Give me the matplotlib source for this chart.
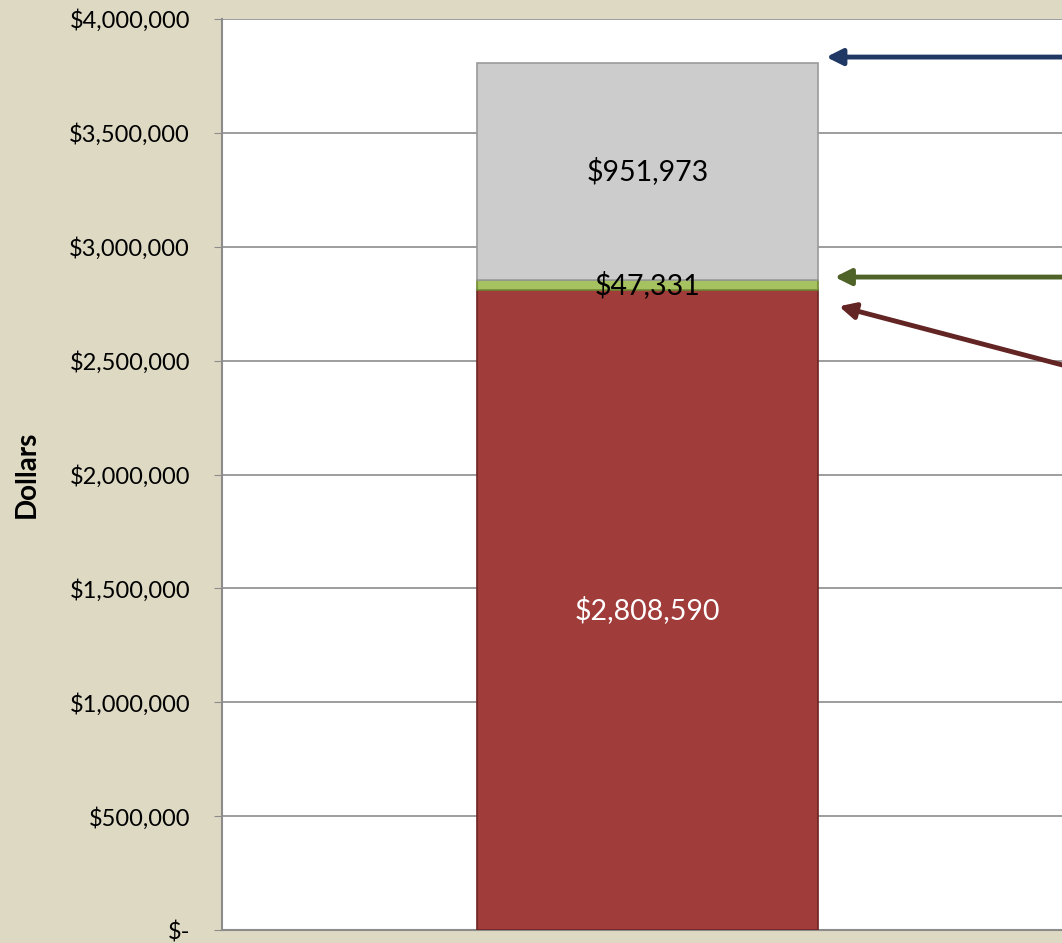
import matplotlib.pyplot as plt
from matplotlib.ticker import FuncFormatter

# stacked segments, bottom to top
segments = ['Red', 'Green', 'Gray']
values = [2808590, 47331, 951973]
colors = ['#A03C3A', '#A6C160', '#CCCCCC']
edges = ['#6E2422', '#6F8A35', '#9A9A9A']
label_colors = ['white', 'black', 'black']
arrow_colors = ['#632523', '#4F6228', '#1F3864']

plt.rcParams['font.family'] = ['Lato', 'DejaVu Sans']

fig = plt.figure(figsize=(10.62, 9.43), dpi=100)
fig.patch.set_facecolor('#DDD9C3')
ax = fig.add_axes([222 / 1062, 13 / 943, 851 / 1062, 911 / 943])
ax.set_facecolor('white')

bottom = 0
tops = []
for v, c, e in zip(values, colors, edges):
    ax.bar(0, v, width=0.4, bottom=bottom, color=c, edgecolor=e, linewidth=1.2, zorder=3)
    bottom += v
    tops.append(bottom)

# data labels
starts = [0] + tops[:-1]
for s, v, lc in zip(starts, values, label_colors):
    ax.text(0, s + v / 2, '${:,}'.format(v), ha='center', va='center',
            fontsize=20.5, color=lc, zorder=4)

ax.set_xlim(-0.5, 0.5)
ax.set_ylim(0, 4000000)
ax.set_xticks([])
ax.set_yticks(range(0, 4000001, 500000))
ax.yaxis.set_major_formatter(FuncFormatter(lambda y, p: '$-' if y == 0 else '${:,.0f}'.format(y)))
ax.tick_params(axis='y', length=6, color='#8C8C8C', labelsize=17, pad=17)
ax.grid(axis='y', color='#8C8C8C', linewidth=1.2, zorder=1)
for sp in ['top', 'right']:
    ax.spines[sp].set_visible(False)
for sp in ['left', 'bottom']:
    ax.spines[sp].set_color('#8C8C8C')
    ax.spines[sp].set_linewidth(1.5)
ax.set_ylabel('Dollars', fontsize=20, fontweight='bold', labelpad=21)

# arrows pointing at the segment tops
arrow_tips = [(0.225, tops[0] - 70000), (0.220, tops[1] + 11000), (0.210, tops[2] + 25000)]
arrow_tails = [(0.5, tops[0] - 340000), (0.5, tops[1] + 11000), (0.5, tops[2] + 25000)]
for tip, tail, c in zip(arrow_tips, arrow_tails, arrow_colors):
    ax.annotate('', xy=tip, xytext=tail, annotation_clip=False,
                arrowprops=dict(arrowstyle='-|>', color=c, lw=3.5,
                                mutation_scale=24, shrinkA=0, shrinkB=0), zorder=5)

plt.savefig('out.png', dpi=100, facecolor=fig.get_facecolor())
